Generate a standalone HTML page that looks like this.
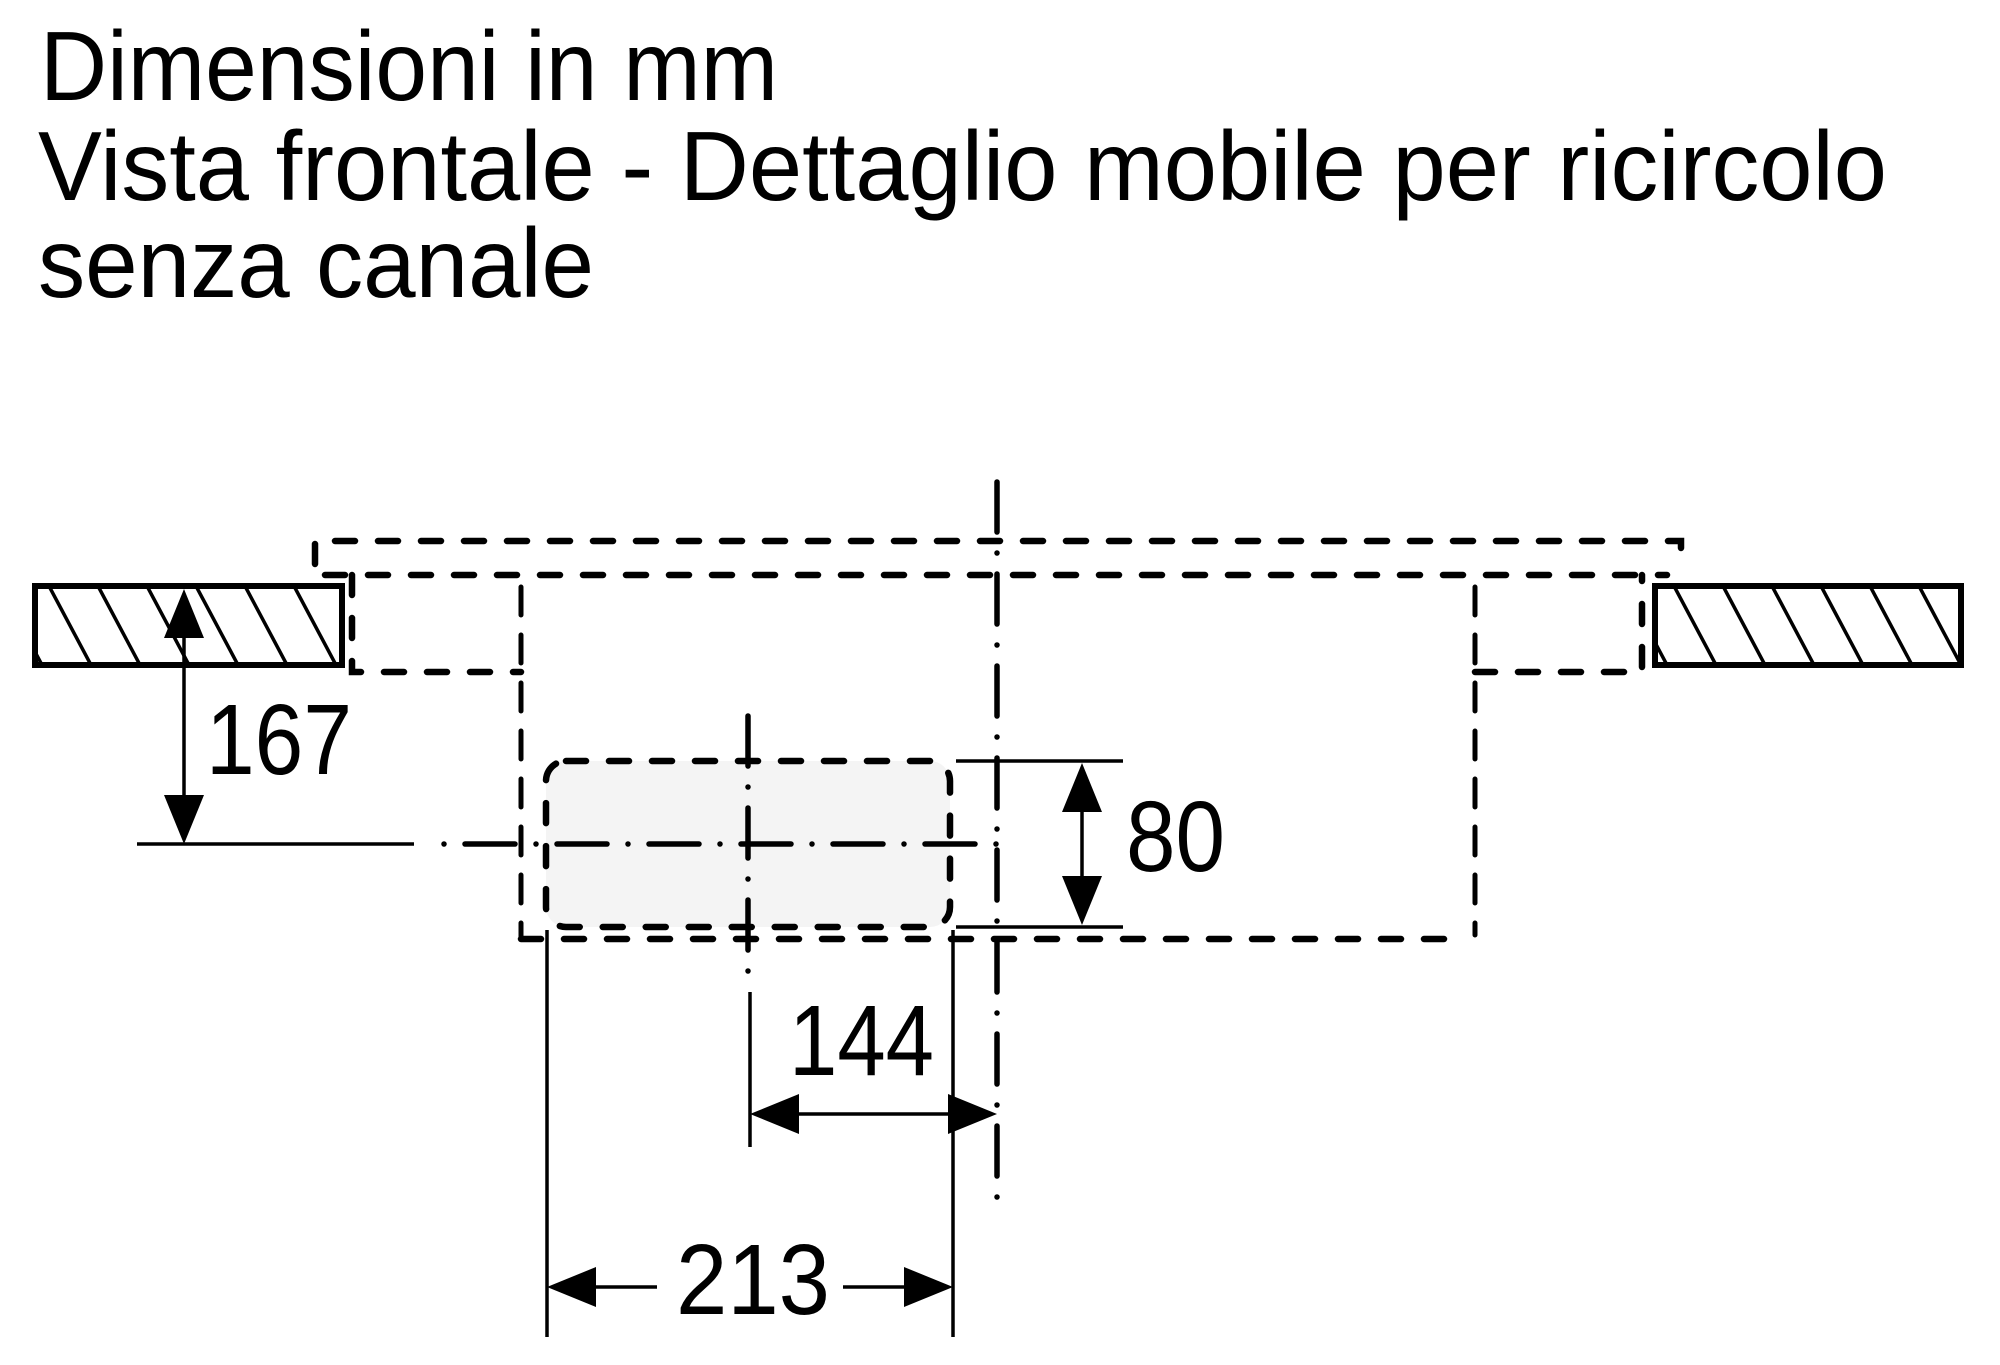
<!DOCTYPE html>
<html><head><meta charset="utf-8"><style>html,body{margin:0;padding:0;background:#fff}svg{display:block}</style></head>
<body>
<svg width="2000" height="1365" viewBox="0 0 2000 1365" xmlns="http://www.w3.org/2000/svg" font-family="'Liberation Sans', Arial, sans-serif">
<g fill="#000" font-size="98">
<text x="40" y="100" textLength="738" lengthAdjust="spacingAndGlyphs">Dimensioni in mm</text>
<text x="38" y="200" textLength="1849" lengthAdjust="spacingAndGlyphs">Vista frontale - Dettaglio mobile per ricircolo</text>
<text x="38" y="297" textLength="556" lengthAdjust="spacingAndGlyphs">senza canale</text>
</g>
<defs>
<clipPath id="cl"><rect x="37" y="586" width="303" height="77"/></clipPath>
<clipPath id="cr"><rect x="1657" y="586" width="302" height="77"/></clipPath>
</defs>
<rect x="546" y="761" width="404" height="166" rx="20" fill="#f4f4f4"/>
<g stroke="#000" fill="none">
<rect x="35" y="586" width="307" height="79" stroke-width="6"/>
<g clip-path="url(#cl)" stroke-width="3.5">
<line x1="0" y1="586" x2="42" y2="665"/><line x1="49" y1="586" x2="91" y2="665"/><line x1="98" y1="586" x2="140" y2="665"/><line x1="147" y1="586" x2="189" y2="665"/><line x1="196" y1="586" x2="238" y2="665"/><line x1="245" y1="586" x2="287" y2="665"/><line x1="294" y1="586" x2="336" y2="665"/><line x1="343" y1="586" x2="385" y2="665"/>
</g>
<rect x="1655" y="586" width="306" height="79" stroke-width="6"/>
<g clip-path="url(#cr)" stroke-width="3.5">
<line x1="1625" y1="586" x2="1667" y2="665"/><line x1="1674" y1="586" x2="1716" y2="665"/><line x1="1723" y1="586" x2="1765" y2="665"/><line x1="1772" y1="586" x2="1814" y2="665"/><line x1="1821" y1="586" x2="1863" y2="665"/><line x1="1870" y1="586" x2="1912" y2="665"/><line x1="1919" y1="586" x2="1961" y2="665"/>
</g>
</g>
<g stroke="#000" fill="none" stroke-width="6.5" stroke-linecap="round" stroke-dasharray="20 23">
<polyline points="315,564 315,541 1681,541 1681,566"/>
<polyline points="325,575 1667,575"/>
<polyline points="352,575 352,672 521,672"/>
<polyline points="1475,672 1642,672 1642,575"/>
<polyline points="521,939 1467,939"/>
<rect x="546" y="761" width="404" height="166" rx="20"/>
</g>
<g stroke="#000" fill="none" stroke-width="5" stroke-linecap="round" stroke-dasharray="28 20">
<line x1="521" y1="587" x2="521" y2="939"/>
<line x1="1475" y1="587" x2="1475" y2="935"/>
</g>
<g stroke="#000" fill="none" stroke-width="5.5" stroke-linecap="round" stroke-dasharray="50 21 0 21">
<line x1="997" y1="482" x2="997" y2="1201"/>
<line x1="748" y1="716" x2="748" y2="975"/>
<line x1="444" y1="844" x2="1012" y2="844" stroke-dasharray="0 21 50 21"/>
</g>
<g stroke="#000" stroke-width="3.5" fill="none">
<line x1="137" y1="844" x2="414" y2="844"/>
<line x1="184" y1="630" x2="184" y2="800"/>
<line x1="956" y1="761" x2="1123" y2="761"/>
<line x1="956" y1="927" x2="1123" y2="927"/>
<line x1="1082" y1="800" x2="1082" y2="890"/>
<line x1="547" y1="930" x2="547" y2="1337"/>
<line x1="953" y1="930" x2="953" y2="1337"/>
<line x1="750" y1="992" x2="750" y2="1147"/>
<line x1="790" y1="1114" x2="950" y2="1114"/>
<line x1="590" y1="1287" x2="657" y2="1287"/>
<line x1="843" y1="1287" x2="905" y2="1287"/>
</g>
<g fill="#000">
<polygon points="184,589 164,638 204,638"/>
<polygon points="184,844 164,795 204,795"/>
<polygon points="1082,763 1062,812 1102,812"/>
<polygon points="1082,925 1062,876 1102,876"/>
<polygon points="750,1114 799,1094 799,1134"/>
<polygon points="997,1114 948,1094 948,1134"/>
<polygon points="547,1287 596,1267 596,1307"/>
<polygon points="953,1287 904,1267 904,1307"/>
</g>
<g fill="#000" font-size="100">
<text x="206" y="774" textLength="146" lengthAdjust="spacingAndGlyphs">167</text>
<text x="1126" y="871" textLength="99" lengthAdjust="spacingAndGlyphs">80</text>
<text x="789" y="1075" textLength="145" lengthAdjust="spacingAndGlyphs">144</text>
<text x="676" y="1314" textLength="154" lengthAdjust="spacingAndGlyphs">213</text>
</g>
</svg>
</body></html>
